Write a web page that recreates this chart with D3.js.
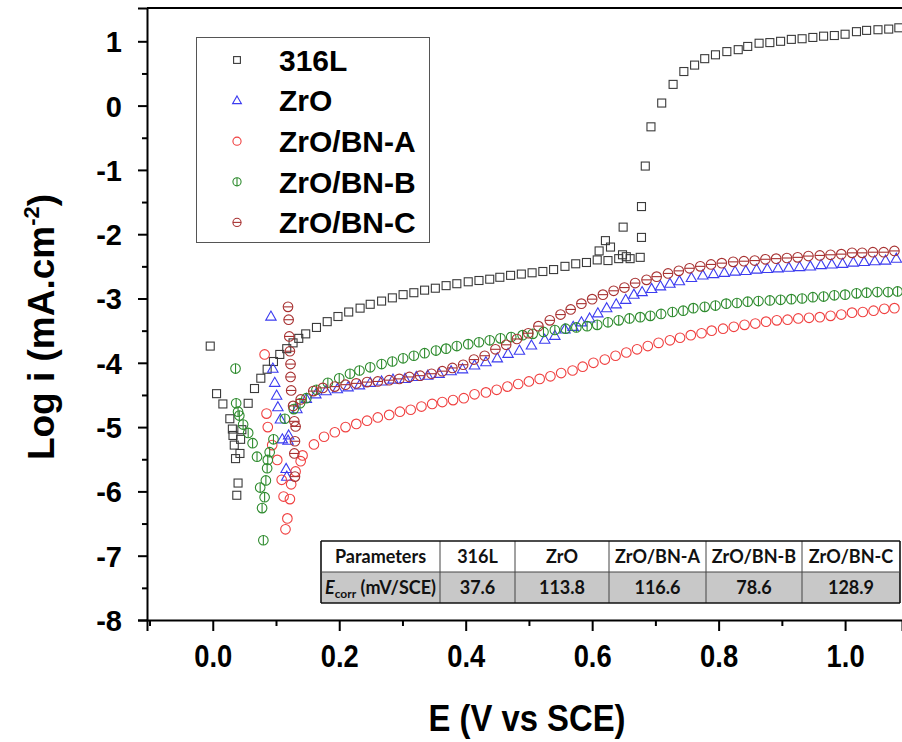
<!DOCTYPE html>
<html><head><meta charset="utf-8">
<script src="https://cdn.jsdelivr.net/npm/d3@7"></script>
<style>
html,body{margin:0;padding:0;background:#fff;}
svg{display:block;}
</style></head>
<body>
<svg id="chart" width="902" height="742"></svg>
<script>
// ---------- DATA ----------
const seriesNames = ["316L", "ZrO", "ZrO/BN-A", "ZrO/BN-B", "ZrO/BN-C"];
const seriesColors = ["#3a3a3a", "#3c3cf0", "#f04040", "#2e8b2e", "#a83232"];
const seriesSymbols = ["square", "triangle", "circle", "circleV", "circleH"];

const data316L = [[-0.004,-3.74],[0.006,-4.48],[0.016,-4.64],[0.027,-4.87],[0.031,-5.03],[0.032,-5.13],[0.034,-5.28],[0.036,-5.49],[0.038,-6.06],[0.040,-5.87],[0.043,-5.41],[0.044,-5.19],[0.046,-5.04],[0.056,-4.63],[0.066,-4.40],[0.076,-4.24],[0.086,-4.10],[0.096,-3.98],[0.106,-3.87],[0.117,-3.78],[0.127,-3.69],[0.136,-3.62],[0.147,-3.55],[0.164,-3.45],[0.181,-3.36],[0.198,-3.28],[0.215,-3.21],[0.233,-3.15],[0.249,-3.09],[0.267,-3.04],[0.284,-2.99],[0.301,-2.94],[0.318,-2.91],[0.335,-2.87],[0.352,-2.84],[0.369,-2.80],[0.386,-2.77],[0.404,-2.74],[0.421,-2.72],[0.438,-2.70],[0.454,-2.67],[0.471,-2.64],[0.488,-2.62],[0.505,-2.60],[0.522,-2.58],[0.539,-2.55],[0.557,-2.50],[0.574,-2.46],[0.591,-2.44],[0.608,-2.40],[0.611,-2.26],[0.621,-2.10],[0.629,-2.20],[0.625,-2.41],[0.642,-2.38],[0.649,-1.89],[0.648,-2.32],[0.654,-2.35],[0.660,-2.38],[0.676,-2.36],[0.678,-2.05],[0.678,-1.57],[0.684,-0.94],[0.693,-0.33],[0.710,0.04],[0.728,0.33],[0.745,0.53],[0.762,0.63],[0.778,0.73],[0.795,0.79],[0.813,0.84],[0.831,0.87],[0.846,0.92],[0.864,0.97],[0.881,0.98],[0.898,1.00],[0.915,1.03],[0.932,1.04],[0.949,1.06],[0.966,1.08],[0.983,1.09],[1.000,1.11],[1.018,1.15],[1.034,1.17],[1.052,1.18],[1.069,1.19],[1.085,1.21]];

const dataZrO = [[0.092,-3.28],[0.095,-4.09],[0.098,-4.31],[0.101,-4.51],[0.103,-4.69],[0.107,-4.88],[0.110,-5.19],[0.116,-5.65],[0.117,-5.77],[0.119,-5.21],[0.120,-5.13],[0.133,-4.72],[0.148,-4.56],[0.163,-4.49],[0.179,-4.44],[0.197,-4.41],[0.214,-4.38],[0.232,-4.35],[0.249,-4.31],[0.267,-4.29],[0.285,-4.26],[0.304,-4.25],[0.322,-4.22],[0.340,-4.20],[0.358,-4.17],[0.377,-4.13],[0.395,-4.10],[0.414,-4.04],[0.432,-3.99],[0.450,-3.93],[0.467,-3.86],[0.485,-3.81],[0.504,-3.73],[0.525,-3.64],[0.541,-3.58],[0.557,-3.48],[0.570,-3.44],[0.583,-3.37],[0.596,-3.31],[0.609,-3.23],[0.623,-3.15],[0.638,-3.09],[0.653,-3.02],[0.666,-2.94],[0.679,-2.90],[0.694,-2.85],[0.708,-2.81],[0.723,-2.77],[0.738,-2.73],[0.757,-2.68],[0.775,-2.64],[0.792,-2.62],[0.809,-2.60],[0.826,-2.58],[0.843,-2.57],[0.860,-2.55],[0.877,-2.54],[0.894,-2.53],[0.911,-2.52],[0.928,-2.51],[0.945,-2.50],[0.962,-2.48],[0.979,-2.47],[0.996,-2.46],[1.013,-2.44],[1.030,-2.43],[1.047,-2.42],[1.064,-2.41],[1.081,-2.38]];

const dataBNA = [[0.082,-3.87],[0.085,-4.79],[0.087,-5.00],[0.094,-5.28],[0.102,-5.51],[0.109,-5.82],[0.112,-6.08],[0.118,-6.42],[0.115,-6.59],[0.122,-6.12],[0.124,-5.89],[0.131,-5.69],[0.139,-5.53],[0.142,-5.44],[0.160,-5.27],[0.176,-5.15],[0.193,-5.08],[0.210,-5.00],[0.227,-4.95],[0.244,-4.90],[0.261,-4.85],[0.279,-4.81],[0.296,-4.76],[0.313,-4.73],[0.330,-4.68],[0.347,-4.64],[0.363,-4.61],[0.380,-4.58],[0.397,-4.55],[0.414,-4.49],[0.432,-4.46],[0.449,-4.42],[0.466,-4.37],[0.483,-4.33],[0.500,-4.29],[0.517,-4.25],[0.534,-4.21],[0.551,-4.16],[0.569,-4.12],[0.585,-4.06],[0.602,-4.00],[0.620,-3.95],[0.637,-3.89],[0.654,-3.84],[0.671,-3.79],[0.688,-3.74],[0.705,-3.69],[0.723,-3.65],[0.739,-3.61],[0.756,-3.57],[0.773,-3.54],[0.789,-3.50],[0.807,-3.47],[0.824,-3.44],[0.841,-3.41],[0.858,-3.39],[0.875,-3.36],[0.892,-3.34],[0.909,-3.33],[0.926,-3.31],[0.943,-3.30],[0.960,-3.29],[0.977,-3.27],[0.994,-3.25],[1.011,-3.22],[1.028,-3.21],[1.045,-3.19],[1.062,-3.16],[1.078,-3.15]];

const dataBNB = [[0.036,-4.09],[0.037,-4.63],[0.040,-4.76],[0.042,-4.82],[0.048,-4.96],[0.056,-5.09],[0.063,-5.25],[0.070,-5.46],[0.075,-5.94],[0.078,-6.26],[0.080,-6.76],[0.082,-6.09],[0.084,-5.83],[0.086,-5.64],[0.087,-5.51],[0.090,-5.39],[0.096,-5.19],[0.114,-4.87],[0.128,-4.72],[0.138,-4.63],[0.148,-4.55],[0.164,-4.42],[0.182,-4.31],[0.200,-4.24],[0.217,-4.17],[0.232,-4.12],[0.249,-4.07],[0.267,-4.02],[0.284,-3.98],[0.301,-3.93],[0.318,-3.89],[0.335,-3.85],[0.353,-3.81],[0.369,-3.78],[0.386,-3.74],[0.404,-3.71],[0.421,-3.68],[0.438,-3.65],[0.455,-3.62],[0.472,-3.60],[0.490,-3.57],[0.506,-3.55],[0.523,-3.52],[0.541,-3.49],[0.558,-3.47],[0.575,-3.45],[0.592,-3.43],[0.608,-3.41],[0.625,-3.37],[0.642,-3.34],[0.659,-3.31],[0.676,-3.29],[0.692,-3.27],[0.709,-3.24],[0.727,-3.21],[0.744,-3.19],[0.760,-3.15],[0.778,-3.13],[0.795,-3.11],[0.812,-3.08],[0.829,-3.07],[0.846,-3.05],[0.863,-3.04],[0.881,-3.03],[0.898,-3.02],[0.915,-3.01],[0.932,-3.00],[0.949,-2.98],[0.966,-2.97],[0.983,-2.95],[1.000,-2.94],[1.018,-2.92],[1.034,-2.91],[1.051,-2.90],[1.068,-2.90],[1.083,-2.89]];

const dataBNC = [[0.119,-3.13],[0.120,-3.33],[0.121,-3.59],[0.122,-3.82],[0.123,-4.02],[0.123,-4.22],[0.124,-4.43],[0.127,-4.67],[0.129,-4.91],[0.131,-4.99],[0.130,-5.22],[0.129,-5.41],[0.130,-5.77],[0.139,-4.57],[0.159,-4.44],[0.174,-4.39],[0.193,-4.37],[0.210,-4.34],[0.227,-4.32],[0.244,-4.30],[0.261,-4.29],[0.279,-4.27],[0.295,-4.25],[0.311,-4.22],[0.328,-4.20],[0.346,-4.17],[0.363,-4.13],[0.379,-4.08],[0.396,-4.03],[0.413,-3.95],[0.430,-3.89],[0.447,-3.79],[0.464,-3.72],[0.481,-3.63],[0.499,-3.54],[0.515,-3.43],[0.533,-3.34],[0.550,-3.25],[0.566,-3.17],[0.583,-3.08],[0.600,-3.01],[0.617,-2.94],[0.634,-2.88],[0.651,-2.83],[0.668,-2.76],[0.686,-2.71],[0.702,-2.66],[0.720,-2.61],[0.737,-2.57],[0.754,-2.53],[0.771,-2.50],[0.788,-2.47],[0.805,-2.45],[0.823,-2.43],[0.840,-2.42],[0.857,-2.41],[0.874,-2.39],[0.891,-2.38],[0.908,-2.37],[0.925,-2.36],[0.942,-2.34],[0.960,-2.33],[0.977,-2.32],[0.994,-2.31],[1.011,-2.29],[1.027,-2.29],[1.044,-2.28],[1.061,-2.28],[1.078,-2.26]];

const xMajorTicks = [0.0, 0.2, 0.4, 0.6, 0.8, 1.0];
const xMinorTicks = [-0.1, 0.1, 0.3, 0.5, 0.7, 0.9];
const yMajorTicks = [-8, -7, -6, -5, -4, -3, -2, -1, 0, 1];
const yMinorTicks = [-7.5, -6.5, -5.5, -4.5, -3.5, -2.5, -1.5, -0.5, 0.5];

const tableHeader = ["Parameters", "316L", "ZrO", "ZrO/BN-A", "ZrO/BN-B", "ZrO/BN-C"];
const ecorrValues = ["37.6", "113.8", "116.6", "78.6", "128.9"];

const allSeries = [data316L, dataZrO, dataBNA, dataBNB, dataBNC];

// ---------- LAYOUT ----------
const svg = d3.select("#chart");
const X0 = 147, X1 = 902, YT = 8, YB = 620;
const x = d3.scaleLinear().domain([-0.104, 1.09]).range([X0, X1]);
const y = d3.scaleLinear().domain([-8, 1.518]).range([YB, YT]);

const axisFont = "'Liberation Sans', Arial, sans-serif";

// top border
svg.append("line").attr("x1", X0).attr("x2", X1).attr("y1", YT).attr("y2", YT)
  .attr("stroke", "#000").attr("stroke-width", 2);

// y axis
const gy = svg.append("g").attr("transform", `translate(${X0},0)`)
  .call(d3.axisLeft(y).tickValues(yMajorTicks).tickSize(9).tickPadding(16).tickFormat(d => String(d)));
const gyMinor = svg.append("g").attr("transform", `translate(${X0},0)`)
  .call(d3.axisLeft(y).tickValues(yMinorTicks).tickSize(5).tickFormat(""));
gyMinor.select(".domain").remove();

// x axis
const gx = svg.append("g").attr("transform", `translate(0,${YB})`)
  .call(d3.axisBottom(x).tickValues(xMajorTicks).tickSize(11).tickPadding(14).tickFormat(d3.format(".1f")));
const gxMinor = svg.append("g").attr("transform", `translate(0,${YB})`)
  .call(d3.axisBottom(x).tickValues(xMinorTicks).tickSize(6).tickFormat(""));
gxMinor.select(".domain").remove();

[gy, gx, gyMinor, gxMinor].forEach(g => {
  g.selectAll(".domain").attr("stroke", "#000").attr("stroke-width", 2);
  g.selectAll(".tick line").attr("stroke", "#000").attr("stroke-width", 2);
});
gy.selectAll(".tick text").attr("font-family", axisFont).attr("font-weight", "bold")
  .attr("font-size", 29).attr("fill", "#000").attr("dy", "0.36em");
gx.selectAll(".tick text").attr("font-family", axisFont).attr("font-weight", "bold")
  .attr("font-size", 31).attr("fill", "#000").attr("dy", "0.71em")
  .attr("textLength", 38).attr("lengthAdjust", "spacingAndGlyphs");

// axis titles
svg.append("text").attr("x", 527).attr("y", 731).attr("text-anchor", "middle")
  .attr("font-family", axisFont).attr("font-weight", "bold").attr("font-size", 37)
  .attr("textLength", 197).attr("lengthAdjust", "spacingAndGlyphs")
  .text("E (V vs SCE)");

const yt = svg.append("text").attr("transform", "translate(54,327) rotate(-90)")
  .attr("text-anchor", "middle").attr("font-family", axisFont).attr("font-weight", "bold")
  .attr("font-size", 37);
yt.append("tspan").text("Log i (mA.cm");
yt.append("tspan").attr("font-size", 22).attr("dy", -15).text("-2");
yt.append("tspan").attr("dy", 15).text(")");

// ---------- MARKERS ----------
function drawMarker(g, kind, color, cx, cy, scale) {
  const s = scale || 1;
  if (kind === "square") {
    const h = 4 * s;
    g.append("rect").attr("x", cx - h).attr("y", cy - h).attr("width", 2 * h).attr("height", 2 * h)
      .attr("fill", "none").attr("stroke", color).attr("stroke-width", 1.1);
  } else if (kind === "triangle") {
    const w = 5.2 * s, hTop = 5.5 * s, hBot = 3.6 * s;
    g.append("path").attr("d", `M${cx},${cy - hTop}L${cx + w},${cy + hBot}L${cx - w},${cy + hBot}Z`)
      .attr("fill", "none").attr("stroke", color).attr("stroke-width", 1.1);
  } else {
    const r = 4.8 * s;
    g.append("circle").attr("cx", cx).attr("cy", cy).attr("r", r)
      .attr("fill", "none").attr("stroke", color).attr("stroke-width", 1.1);
    if (kind === "circleV") {
      g.append("line").attr("x1", cx).attr("x2", cx).attr("y1", cy - r).attr("y2", cy + r)
        .attr("stroke", color).attr("stroke-width", 1.1);
    } else if (kind === "circleH") {
      g.append("line").attr("x1", cx - r).attr("x2", cx + r).attr("y1", cy).attr("y2", cy)
        .attr("stroke", color).attr("stroke-width", 1.1);
    }
  }
}

const plot = svg.append("g");
allSeries.forEach((ser, i) => {
  const g = plot.append("g").attr("class", "series");
  ser.forEach(d => drawMarker(g, seriesSymbols[i], seriesColors[i], x(d[0]), y(d[1]), 1));
});

// ---------- LEGEND ----------
const lg = svg.append("g");
lg.append("rect").attr("x", 196.5).attr("y", 37.5).attr("width", 233).attr("height", 205)
  .attr("fill", "#fff").attr("stroke", "#555").attr("stroke-width", 1);
seriesNames.forEach((n, i) => {
  const cy = 60 + i * 40.6;
  drawMarker(lg, seriesSymbols[i], seriesColors[i], 237, cy, 0.85);
  lg.append("text").attr("x", 279).attr("y", cy).attr("dy", "0.36em")
    .attr("font-family", axisFont).attr("font-weight", "bold").attr("font-size", 30)
    .text(n);
});

// ---------- TABLE ----------
const colX = [321, 440, 515, 609, 706, 802, 900];
const rowY = [541, 572, 603];
const tb = svg.append("g");
tb.append("rect").attr("x", colX[0]).attr("y", rowY[1]).attr("width", colX[6] - colX[0]).attr("height", rowY[2] - rowY[1])
  .attr("fill", "#c8c8c8");
tb.append("rect").attr("x", colX[0]).attr("y", rowY[0]).attr("width", colX[6] - colX[0]).attr("height", rowY[1] - rowY[0])
  .attr("fill", "#fff");
colX.forEach((cx, i) => {
  tb.append("line").attr("x1", cx).attr("x2", cx).attr("y1", rowY[0]).attr("y2", rowY[2])
    .attr("stroke", i === 0 || i === 6 ? "#111" : "#444").attr("stroke-width", i === 0 || i === 6 ? 1.6 : 1);
});
rowY.forEach((ry, i) => {
  tb.append("line").attr("x1", colX[0]).attr("x2", colX[6]).attr("y1", ry).attr("y2", ry)
    .attr("stroke", i === 1 ? "#444" : "#111").attr("stroke-width", i === 1 ? 1 : 1.6);
});
const tFont = "Lato, 'Open Sans', sans-serif";
tableHeader.forEach((h, i) => {
  tb.append("text").attr("x", (colX[i] + colX[i + 1]) / 2).attr("y", (rowY[0] + rowY[1]) / 2)
    .attr("dy", "0.36em").attr("text-anchor", "middle").attr("font-family", tFont)
    .attr("font-weight", "bold").attr("font-size", 18).attr("fill", "#111").text(h);
});
const ec = tb.append("text").attr("x", (colX[0] + colX[1]) / 2).attr("y", (rowY[1] + rowY[2]) / 2)
  .attr("dy", "0.36em").attr("text-anchor", "middle").attr("font-family", tFont)
  .attr("font-weight", "bold").attr("font-size", 18).attr("fill", "#111");
ec.append("tspan").attr("font-style", "italic").text("E");
ec.append("tspan").attr("font-size", 12).attr("dy", 4).text("corr");
ec.append("tspan").attr("dy", -4).text(" (mV/SCE)");
ecorrValues.forEach((v, i) => {
  tb.append("text").attr("x", (colX[i + 1] + colX[i + 2]) / 2).attr("y", (rowY[1] + rowY[2]) / 2)
    .attr("dy", "0.36em").attr("text-anchor", "middle").attr("font-family", tFont)
    .attr("font-weight", "bold").attr("font-size", 18).attr("fill", "#111").text(v);
});
</script>
</body></html>
